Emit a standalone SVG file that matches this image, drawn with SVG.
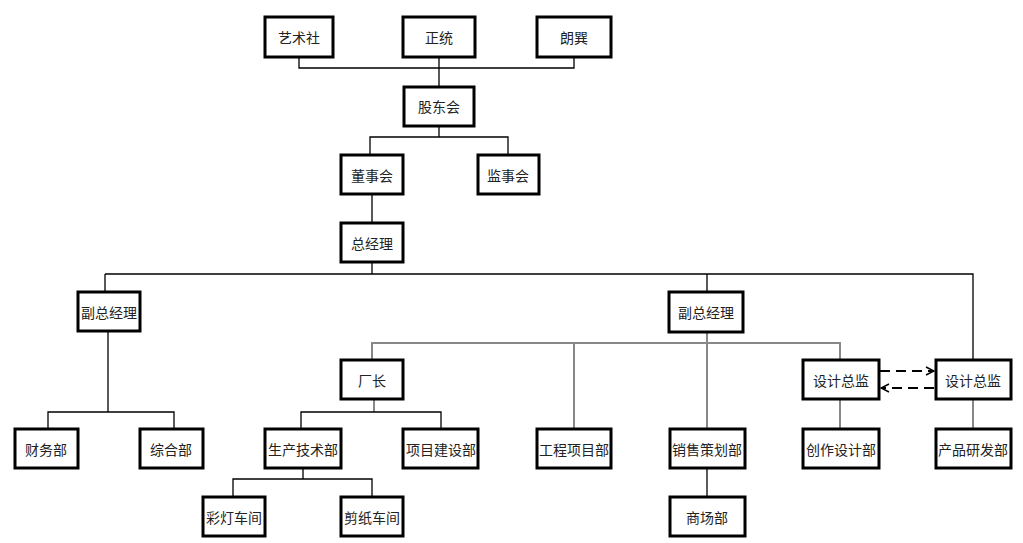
<svg xmlns="http://www.w3.org/2000/svg" width="1023" height="543" viewBox="0 0 1023 543">
<style>
.b{fill:#fff;stroke:#000;stroke-width:3}
.t{font-family:"Noto Sans CJK SC","Liberation Sans",sans-serif;font-size:14px;fill:#222;text-anchor:middle;dominant-baseline:central}
.l{fill:none;stroke:#000;stroke-width:1.3}
.g{fill:none;stroke:#888;stroke-width:2}
.d{fill:none;stroke:#000;stroke-width:2;stroke-dasharray:10,6}
</style>
<defs><marker id="a" markerWidth="10" markerHeight="10" refX="9" refY="5" orient="auto" markerUnits="userSpaceOnUse"><path d="M1,1 L9,5 L1,9" fill="none" stroke="#000" stroke-width="1.5"/></marker></defs>
<g id="connectors">
<path class="l" d="M299,57V68H574V57M439,57V87"/>
<path class="l" d="M439,126V137H370V155M439,137H508V155"/>
<path class="l" d="M372,194V223M372,262V274M105,274H973V360M105,274V292M707,274V292"/>
<path class="l" d="M108,332V412M48,429V412H174V429"/>
<path class="g" d="M707,332V429M372,360V343H840V360M574,343V429"/>
<path class="g" d="M374,399V412"/><path class="l" d="M301,429V412H441V429"/>
<path class="l" d="M303,468V479M233,497V479H372V497"/>
<path class="g" d="M840,399V429M973,399V429"/>
<path class="l" d="M707,468V497"/>
<path class="d" d="M880,371H934" marker-end="url(#a)"/>
<path class="d" d="M934,388H881" marker-end="url(#a)"/>
</g>
<g id="n1"><rect class="b" x="265" y="17" width="68" height="40"/><text class="t" x="299" y="37">艺术社</text></g>
<g id="n2"><rect class="b" x="403" y="17" width="72" height="40"/><text class="t" x="439" y="37">正统</text></g>
<g id="n3"><rect class="b" x="537" y="17" width="74" height="40"/><text class="t" x="574" y="37">朗巽</text></g>
<g id="n4"><rect class="b" x="404" y="87" width="70" height="39"/><text class="t" x="439" y="106">股东会</text></g>
<g id="n5"><rect class="b" x="341" y="155" width="62" height="39"/><text class="t" x="372" y="175">董事会</text></g>
<g id="n6"><rect class="b" x="478" y="155" width="61" height="39"/><text class="t" x="508" y="175">监事会</text></g>
<g id="n7"><rect class="b" x="341" y="223" width="62" height="39"/><text class="t" x="372" y="243">总经理</text></g>
<g id="n8"><rect class="b" x="78" y="292" width="62" height="39"/><text class="t" x="109" y="312">副总经理</text></g>
<g id="n9"><rect class="b" x="669" y="292" width="74" height="40"/><text class="t" x="706" y="312">副总经理</text></g>
<g id="n10"><rect class="b" x="341" y="360" width="62" height="39"/><text class="t" x="372" y="380">厂长</text></g>
<g id="n11"><rect class="b" x="803" y="360" width="76" height="39"/><text class="t" x="841" y="380">设计总监</text></g>
<g id="n12"><rect class="b" x="936" y="360" width="75" height="39"/><text class="t" x="973" y="380">设计总监</text></g>
<g id="n13"><rect class="b" x="15" y="429" width="63" height="39"/><text class="t" x="46" y="449">财务部</text></g>
<g id="n14"><rect class="b" x="140" y="429" width="63" height="39"/><text class="t" x="171" y="449">综合部</text></g>
<g id="n15"><rect class="b" x="265" y="429" width="76" height="39"/><text class="t" x="303" y="449">生产技术部</text></g>
<g id="n16"><rect class="b" x="403" y="429" width="75" height="39"/><text class="t" x="441" y="449">项目建设部</text></g>
<g id="n17"><rect class="b" x="537" y="429" width="74" height="39"/><text class="t" x="574" y="449">工程项目部</text></g>
<g id="n18"><rect class="b" x="670" y="429" width="75" height="39"/><text class="t" x="707" y="449">销售策划部</text></g>
<g id="n19"><rect class="b" x="803" y="429" width="76" height="39"/><text class="t" x="841" y="449">创作设计部</text></g>
<g id="n20"><rect class="b" x="936" y="429" width="75" height="39"/><text class="t" x="973" y="449">产品研发部</text></g>
<g id="n21"><rect class="b" x="203" y="497" width="62" height="39"/><text class="t" x="234" y="517">彩灯车间</text></g>
<g id="n22"><rect class="b" x="341" y="497" width="62" height="39"/><text class="t" x="372" y="517">剪纸车间</text></g>
<g id="n23"><rect class="b" x="670" y="497" width="75" height="39"/><text class="t" x="707" y="517">商场部</text></g>
</svg>
